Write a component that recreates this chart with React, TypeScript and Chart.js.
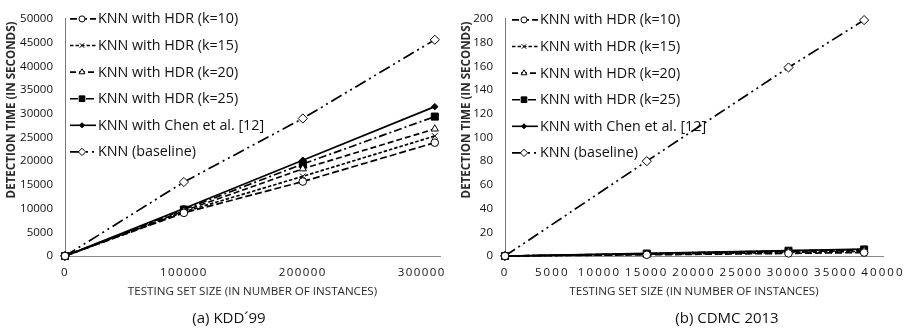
import React, { useEffect, useRef } from 'react';
import { Chart, registerables } from 'chart.js';
import { drawPoint } from 'chart.js/helpers';

Chart.register(...registerables);

// ---------- data ----------
const seriesLabels = [
  'KNN with HDR (k=10)',
  'KNN with HDR (k=15)',
  'KNN with HDR (k=20)',
  'KNN with HDR (k=25)',
  'KNN with Chen et al. [12]',
  'KNN (baseline)',
];

const kddSizes = [0, 100000, 200000, 311029];
const kddK10 = [0, 9100, 15700, 23900];
const kddK15 = [0, 9300, 16800, 25300];
const kddK20 = [0, 9500, 18400, 26800];
const kddK25 = [0, 9800, 19400, 29400];
const kddChen = [0, 10000, 20200, 31500];
const kddBaseline = [0, 15600, 29000, 45600];
const kddXTicks = [0, 100000, 200000, 300000];
const kddYTicks = [0, 5000, 10000, 15000, 20000, 25000, 30000, 35000, 40000, 45000, 50000];

const cdmcSizes = [0, 15000, 30000, 38000];
const cdmcK10 = [0, 1.0, 2.2, 2.9];
const cdmcK15 = [0, 1.4, 3.0, 3.9];
const cdmcK20 = [0, 1.7, 3.6, 4.6];
const cdmcK25 = [0, 2.0, 4.4, 5.5];
const cdmcChen = [0, 2.2, 4.6, 5.8];
const cdmcBaseline = [0, 80, 159, 199];
const cdmcXTicks = [0, 5000, 10000, 15000, 20000, 25000, 30000, 35000, 40000];
const cdmcYTicks = [0, 20, 40, 60, 80, 100, 120, 140, 160, 180, 200];

// ---------- styles ----------
const seriesStyles = [
  { dash: [7, 3], point: 'circle', r: 3.8, fill: '#ffffff' },
  { dash: [3.5, 2], point: 'crossRot', r: 4, fill: '#ffffff' },
  { dash: [6, 3], point: 'triangle', r: 4.2, fill: '#ffffff' },
  { dash: [8, 3, 2, 3], point: 'rect', r: 5, fill: '#000000' },
  { dash: [], point: 'rectRot', r: 3.2, fill: '#000000' },
  { dash: [12, 4, 2, 4, 2, 4], point: 'rectRot', r: 4.6, fill: '#ffffff' },
];

const FONT = '"Open Sans", "Noto Sans", sans-serif';

const annotPlugin = {
  id: 'annot',
  afterDraw(chart: any, _args: any, opts: any) {
    const ctx = chart.ctx as CanvasRenderingContext2D;
    const ca = chart.chartArea;
    ctx.save();
    // legend
    chart.data.datasets.forEach((ds: any, i: number) => {
      const y = ca.top + opts.legendTop + i * opts.legendGap;
      const x0 = ca.left + opts.legendLeft;
      ctx.strokeStyle = '#000';
      ctx.lineWidth = 1.6;
      ctx.setLineDash(ds.borderDash || []);
      ctx.beginPath();
      ctx.moveTo(x0, y);
      ctx.lineTo(x0 + 26, y);
      ctx.stroke();
      ctx.setLineDash([]);
      ctx.fillStyle = ds.pointBackgroundColor;
      ctx.strokeStyle = '#000';
      ctx.lineWidth = 1;
      drawPoint(ctx, { pointStyle: ds.pointStyle, radius: ds.pointRadius * 0.8, rotation: 0, borderWidth: 1 } as any, x0 + 12, y);
      ctx.fillStyle = '#111';
      ctx.font = '14.3px ' + FONT;
      ctx.textAlign = 'left';
      ctx.textBaseline = 'middle';
      ctx.fillText(ds.label, x0 + 28, y + 0.5);
    });
    // y title
    ctx.save();
    ctx.translate(opts.yTitleX, opts.yTitleY);
    ctx.rotate(-Math.PI / 2);
    ctx.fillStyle = '#2a2a2a';
    ctx.font = 'bold 11.6px ' + FONT;
    ctx.textAlign = 'center';
    ctx.textBaseline = 'middle';
    ctx.fillText(opts.yTitle, 0, 0);
    ctx.restore();
    // x title
    ctx.fillStyle = '#2a2a2a';
    ctx.font = '11.6px ' + FONT;
    ctx.textAlign = 'center';
    ctx.textBaseline = 'middle';
    ctx.fillText(opts.xTitle, (ca.left + ca.right) / 2, opts.xTitleY);
    // caption
    ctx.fillStyle = '#111';
    ctx.font = '15px ' + FONT;
    ctx.fillText(opts.caption, opts.captionX, opts.captionY);
    ctx.restore();
  },
};

type PanelProps = {
  xs: number[];
  series: number[][];
  xTicks: number[];
  yTicks: number[];
  xMax: number;
  yMax: number;
  axisLeft: number;
  padRight: number;
  letterSpacing: string;
  caption: string;
  captionX: number;
  legendLeft: number;
  legendTop: number;
  width: number;
};

function Panel(p: PanelProps) {
  const ref = useRef<HTMLCanvasElement | null>(null);
  useEffect(() => {
    if (!ref.current) return;
    const datasets = p.series.map((vals, i) => {
      const st = seriesStyles[i];
      return {
        label: seriesLabels[i],
        data: vals.map((v, j) => ({ x: p.xs[j], y: v })),
        borderColor: '#000',
        borderWidth: 1.7,
        borderDash: st.dash,
        pointStyle: st.point,
        pointRadius: st.r,
        pointBackgroundColor: st.fill,
        pointBorderColor: '#000',
        pointBorderWidth: 1,
        fill: false,
        tension: 0,
        clip: false,
      };
    });
    const chart = new Chart(ref.current, {
      type: 'line',
      data: { datasets } as any,
      plugins: [annotPlugin as any],
      options: {
        animation: false,
        responsive: true,
        maintainAspectRatio: false,
        layout: { padding: { top: 15, right: p.padRight, left: 0, bottom: 0 } },
        plugins: {
          legend: { display: false },
          tooltip: { enabled: false },
          annot: {
            legendLeft: p.legendLeft,
            legendTop: p.legendTop,
            legendGap: 26.6,
            yTitle: 'DETECTION TIME (IN SECONDS)',
            yTitleX: 12,
            yTitleY: 110,
            xTitle: 'TESTING SET SIZE (IN NUMBER OF INSTANCES)',
            xTitleY: 292,
            caption: p.caption,
            captionX: p.captionX,
            captionY: 319,
          },
        } as any,
        scales: {
          x: {
            type: 'linear',
            min: 0,
            max: p.xMax,
            grid: { display: false, drawTicks: false },
            border: { display: true, color: '#8a8a8a', width: 1 },
            afterBuildTicks: (s: any) => {
              s.ticks = p.xTicks.map((v) => ({ value: v }));
            },
            afterFit: (s: any) => {
              s.height = 333 - 256;
            },
            ticks: {
              autoSkip: false,
              maxRotation: 0,
              padding: 10,
              color: '#111',
              font: { family: FONT, size: 11.5 },
              callback: (v: any) => String(v),
            },
          },
          y: {
            type: 'linear',
            min: 0,
            max: p.yMax,
            grid: { display: false, drawTicks: false },
            border: { display: true, color: '#777', width: 1 },
            afterBuildTicks: (s: any) => {
              s.ticks = p.yTicks.map((v) => ({ value: v }));
            },
            afterFit: (s: any) => {
              s.width = p.axisLeft;
            },
            ticks: {
              padding: 12,
              color: '#111',
              font: { family: FONT, size: 11.5 },
              callback: (v: any) => String(v),
            },
          },
        },
      } as any,
    });
    const xs: any = chart.scales.x;
    const orig = xs.drawLabels.bind(xs);
    xs.drawLabels = (area: any) => {
      const c: any = chart.ctx;
      c.save();
      c.letterSpacing = p.letterSpacing;
      orig(area);
      c.restore();
    };
    chart.draw();
    return () => chart.destroy();
  }, []);
  return (
    <div style={{ position: 'relative', width: p.width, height: 333 }}>
      <canvas ref={ref} />
    </div>
  );
}

export default function App() {
  return (
    <div style={{ position: 'fixed', left: 0, top: 0, width: 911, height: 333, display: 'flex', background: '#fff' }}>
      <Panel
        xs={kddSizes}
        series={[kddK10, kddK15, kddK20, kddK25, kddChen, kddBaseline]}
        xTicks={kddXTicks}
        yTicks={kddYTicks}
        xMax={315400}
        yMax={50000}
        axisLeft={65}
        padRight={15}
        letterSpacing="1.4px"
        caption="(a) KDD´99"
        captionX={229}
        legendLeft={5}
        legendTop={0}
        width={455}
      />
      <Panel
        xs={cdmcSizes}
        series={[cdmcK10, cdmcK15, cdmcK20, cdmcK25, cdmcChen, cdmcBaseline]}
        xTicks={cdmcXTicks}
        yTicks={cdmcYTicks}
        xMax={40000}
        yMax={200}
        axisLeft={50}
        padRight={28}
        letterSpacing="2.1px"
        caption="(b) CDMC 2013"
        captionX={272}
        legendLeft={7}
        legendTop={1}
        width={456}
      />
    </div>
  );
}
